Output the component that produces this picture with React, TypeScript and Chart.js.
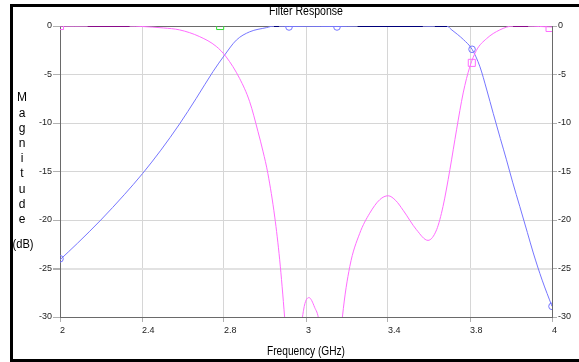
import React, { useEffect, useRef } from "react";
import { Chart, registerables } from "chart.js";

Chart.register(...registerables);

// X axis: 2..4 GHz, 6 equal divisions, labels as printed on the reference
const xTickLabels = ["2", "2.4", "2.8", "3", "3.4", "3.8", "4"];
const yTicks = [0, -5, -10, -15, -20, -25, -30];

// Blue trace (transmission)
const blueFreq = [2.0, 2.071, 2.166, 2.261, 2.336, 2.41, 2.486, 2.554, 2.622, 2.669, 2.717, 2.771, 2.839, 2.87, 2.89, 2.93, 3.0, 3.06, 3.126, 3.17, 3.21, 3.3, 3.4, 3.475, 3.5, 3.524, 3.55, 3.573, 3.59, 3.615, 3.64, 3.675, 3.707, 3.735, 3.761, 3.79, 3.815, 3.84, 3.869, 3.9, 3.924, 3.96, 4.0];
const blueDb = [-24.1, -22.4, -20.0, -17.4, -15.2, -12.8, -10.1, -7.45, -4.7, -3.0, -1.45, -0.6, -0.17, 0, 0, -0.05, -0.03, -0.04, -0.05, -0.03, 0, 0, 0, 0, -0.02, 0, 0, 0, -0.35, -0.85, -1.4, -2.4, -4.2, -6.6, -9.0, -11.6, -13.8, -16.1, -18.6, -21.3, -23.4, -26.2, -28.9];

// Pink trace (reflection)
const pinkFreq = [2.0, 2.06, 2.113, 2.2, 2.283, 2.333, 2.42, 2.486, 2.568, 2.635, 2.676, 2.73, 2.771, 2.805, 2.825, 2.845, 2.873, 2.893, 2.913, 2.93, 2.955, 2.975, 2.99, 3.012, 3.035, 3.053, 3.08, 3.11, 3.135, 3.148, 3.178, 3.218, 3.259, 3.3, 3.334, 3.365, 3.395, 3.449, 3.496, 3.531, 3.557, 3.585, 3.612, 3.639, 3.666, 3.693, 3.734, 3.788, 3.842, 3.903, 3.95, 4.0];
const pinkDb = [0, -0.01, 0, 0, 0, -0.05, -0.2, -0.4, -1.1, -2.1, -3.2, -5.4, -7.8, -10.9, -12.9, -15.2, -19.7, -24.1, -30, -36, -45, -33, -29.3, -28.0, -29.0, -30.5, -38, -45, -34, -30, -24.8, -21.4, -19.3, -17.9, -17.5, -18.0, -19.0, -21.0, -22.1, -21.0, -18.6, -14.8, -10.7, -6.9, -4.2, -2.5, -1.3, -0.4, 0, 0, -0.05, -0.1];

// Markers
const blueMarkerFreq = [2.0, 2.931, 3.126, 3.675, 4.0];
const blueMarkerDb = [-24.0, -0.1, -0.1, -2.4, -28.9];
const pinkMarkerFreq = [2.0, 3.674, 3.99];
const pinkMarkerDb = [0, -3.8, -0.2];
const greenMarkerFreq = [2.651];
const greenMarkerDb = [0];

const BLUE = "#7676ff";
const PINK = "#ff6cff";
const GRID = "#d6d6d6";
const AXIS = "#6a6a6a";

const pts = (xs: number[], ys: number[]) => xs.map((x, i) => ({ x, y: ys[i] }));

const framePlugin = {
  id: "frame",
  beforeDraw(chart: any) {
    const ctx = chart.ctx;
    ctx.save();
    ctx.fillStyle = "#ffffff";
    ctx.fillRect(0, 0, chart.width, chart.height);
    ctx.restore();
  },
  beforeDatasetsDraw(chart: any) {
    const { ctx, chartArea } = chart;
    ctx.save();
    ctx.strokeStyle = AXIS;
    ctx.lineWidth = 1;
    ctx.beginPath();
    ctx.moveTo(chartArea.left, chartArea.top + 0.5);
    ctx.lineTo(chartArea.right, chartArea.top + 0.5);
    ctx.stroke();
    ctx.restore();
  },
  afterDraw(chart: any) {
    const { ctx, chartArea } = chart;
    const cx = (chartArea.left + chartArea.right) / 2;
    ctx.save();
    ctx.fillStyle = "#000";
    ctx.fillRect(10, 4, 3, 358);
    ctx.fillRect(10, 4, 569, 3);
    ctx.fillRect(10, 359, 569, 3);
    ctx.textAlign = "center";
    ctx.textBaseline = "middle";
    ctx.font = "12px 'Liberation Sans', Arial, sans-serif";
    ctx.fillText("Filter Response", cx, 12, 74);
    ctx.fillText("Frequency (GHz)", cx, 352, 78);
    const letters = "Magnitude".split("");
    letters.forEach((ch, i) => ctx.fillText(ch, 22, 98 + 15.2 * i));
    ctx.fillText("(dB)", 23, 245, 21);
    ctx.restore();
  },
};

export default function App() {
  const ref = useRef<HTMLCanvasElement | null>(null);
  useEffect(() => {
    if (!ref.current) return;
    const seg = (dark: string, base: string) => ({
      borderColor: (c: any) => (c.p0.parsed.y === 0 && c.p1.parsed.y === 0 ? dark : base),
      borderWidth: (c: any) => (c.p0.parsed.y === 0 && c.p1.parsed.y === 0 ? 2 : 1),
    });
    const chart = new Chart(ref.current, {
      type: "line",
      data: {
        datasets: [
          {
            label: "S11",
            data: pts(pinkFreq, pinkDb),
            borderColor: PINK,
            borderWidth: 1,
            pointRadius: 0,
            cubicInterpolationMode: "monotone",
            clip: 0,
            segment: seg("#8a0a8a", PINK),
          } as any,
          {
            label: "S21",
            data: pts(blueFreq, blueDb),
            borderColor: BLUE,
            borderWidth: 1,
            pointRadius: 0,
            cubicInterpolationMode: "monotone",
            clip: 0,
            segment: seg("#00007a", BLUE),
          } as any,
          {
            label: "m1",
            data: pts(blueMarkerFreq, blueMarkerDb),
            showLine: false,
            pointStyle: "circle",
            pointRadius: 3.3,
            pointBorderColor: BLUE,
            pointBackgroundColor: "rgba(0,0,0,0)",
            pointBorderWidth: 1,
            clip: 0,
          } as any,
          {
            label: "m2",
            data: pts(pinkMarkerFreq, pinkMarkerDb),
            showLine: false,
            pointStyle: "rect",
            pointRadius: 5,
            pointBorderColor: PINK,
            pointBackgroundColor: "rgba(0,0,0,0)",
            pointBorderWidth: 1,
            clip: 0,
          } as any,
          {
            label: "m3",
            data: pts(greenMarkerFreq, greenMarkerDb),
            showLine: false,
            pointStyle: "rect",
            pointRadius: 5,
            pointBorderColor: "#33dd33",
            pointBackgroundColor: "rgba(0,0,0,0)",
            pointBorderWidth: 1,
            clip: 0,
          } as any,
        ],
      },
      options: {
        responsive: false,
        animation: false,
        events: [],
        layout: { padding: { top: 26, left: 0, right: 0, bottom: 0 } },
        plugins: { legend: { display: false }, tooltip: { enabled: false }, title: { display: false } },
        scales: {
          x: {
            type: "linear",
            min: 2,
            max: 4,
            afterBuildTicks: (axis: any) => {
              axis.ticks = xTickLabels.map((_, i) => ({ value: 2 + (2 * i) / (xTickLabels.length - 1) }));
            },
            afterFit: (axis: any) => {
              axis.height = 45;
            },
            ticks: {
              autoSkip: false,
              maxRotation: 0,
              align: "start",
              padding: 3,
              color: "#222",
              font: { family: "'Liberation Sans', Arial, sans-serif", size: 9 },
              callback: (_v: any, i: number) => xTickLabels[i],
            },
            grid: { color: GRID, tickColor: "#b0b0b0", tickLength: 5, lineWidth: 1 },
            border: { color: AXIS, width: 1 },
          },
          y: {
            type: "linear",
            position: "left",
            min: -30,
            max: 0,
            afterBuildTicks: (axis: any) => {
              axis.ticks = yTicks.map((v) => ({ value: v }));
            },
            afterFit: (axis: any) => {
              axis.width = 60;
            },
            ticks: {
              padding: 1,
              color: "#222",
              font: { family: "'Liberation Sans', Arial, sans-serif", size: 9 },
              callback: (v: any) => String(v),
            },
            grid: {
              color: (c: any) => (c.tick && c.tick.value === -25 ? "#e2e2e2" : GRID),
              lineWidth: (c: any) => (c.tick && c.tick.value === -25 ? 2 : 1),
              tickColor: "#b0b0b0",
              tickLength: 7,
            },
            border: { color: AXIS, width: 1 },
          },
          y2: {
            type: "linear",
            position: "right",
            min: -30,
            max: 0,
            afterBuildTicks: (axis: any) => {
              axis.ticks = yTicks.map((v) => ({ value: v }));
            },
            afterFit: (axis: any) => {
              axis.width = 27;
            },
            ticks: {
              padding: 1,
              color: "#222",
              font: { family: "'Liberation Sans', Arial, sans-serif", size: 9 },
              callback: (v: any) => String(v),
            },
            grid: { drawOnChartArea: false, tickColor: "#b0b0b0", tickLength: 5 },
            border: { color: AXIS, width: 1 },
          },
        },
      } as any,
      plugins: [framePlugin],
    });
    return () => chart.destroy();
  }, []);
  return (
    <div style={{ position: "fixed", left: 0, top: 0, width: 579, height: 362 }}>
      <canvas ref={ref} width={579} height={362} style={{ display: "block", width: 579, height: 362 }} />
    </div>
  );
}
